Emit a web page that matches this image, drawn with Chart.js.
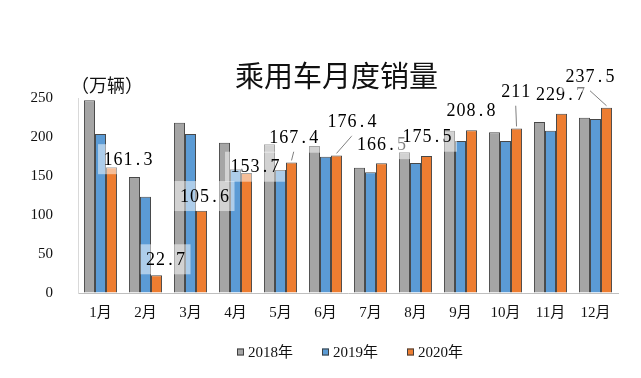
<!DOCTYPE html>
<html>
<head>
<meta charset="utf-8">
<script src="https://cdn.jsdelivr.net/npm/chart.js@4.4.1/dist/chart.umd.min.js"></script>
<style>
html,body{margin:0;padding:0;background:#fff;}
#wrap{width:641px;height:378px;position:relative;}
</style>
</head>
<body>
<div id="wrap"><canvas id="c" width="641" height="378"></canvas></div>
<script>
const categories = ['1月','2月','3月','4月','5月','6月','7月','8月','9月','10月','11月','12月'];
const seriesNames = ['2018年','2019年','2020年'];
const sales2018 = [247, 148.7, 218.3, 192.7, 190.6, 188.5, 160.7, 180.4, 208, 206, 219.2, 224.7];
const sales2019 = [203.8, 123.5, 203.8, 158.6, 157.7, 174.8, 154.7, 166.7, 194.9, 194.9, 208, 223];
const sales2020 = [161.3, 22.7, 105.6, 153.7, 167.4, 176.4, 166.5, 175.5, 208.8, 211, 229.7, 237.5];
const labels2020 = ['161.3','22.7','105.6','153.7','167.4','176.4','166.5','175.5','208.8','211','229.7','237.5'];
const yTicks = [0, 50, 100, 150, 200, 250];
const titleText = '乘用车月度销量';
const unitText = '（万辆）';

// label placement (offset from top-centre of the 2020 bar), and whether a leader line is drawn
const labelOffsets = [[16.5,-8],[9,-16],[3,-14.6],[8.5,-6.4],[2.2,-24.7],[15.5,-33.7],[0,-19],[0.5,-19.4],[-0.5,-19.4],[-0.8,-36.7],[-1,-19.5],[-16.5,-31]];
const leaders = [false,false,false,false,true,true,false,false,false,true,false,true];

const colors = ['#A5A5A5','#5B9BD5','#ED7D31'];
const serif = "'Liberation Serif', 'Noto Sans CJK SC', serif";

const decor = {
  id: 'decor',
  afterDatasetsDraw(chart) {
    const ctx = chart.ctx;
    const meta = chart.getDatasetMeta(2);
    ctx.save();
    ctx.font = "18px 'Liberation Serif', serif";
    ctx.textBaseline = 'middle';
    ctx.textAlign = 'center';
    meta.data.forEach((bar, i) => {
      const txt = labels2020[i];
      const adv = 10;
      const w = txt.length * adv;
      const cx = bar.x + labelOffsets[i][0];
      const cy = bar.y + labelOffsets[i][1];
      ctx.fillStyle = 'rgba(255,255,255,0.5)';
      ctx.fillRect(cx - w/2 - 5, cy - 15, w + 10, 30);
      if (leaders[i]) {
        ctx.strokeStyle = '#7F7F7F';
        ctx.lineWidth = 1;
        ctx.beginPath();
        ctx.moveTo(cx, cy + 14);
        ctx.lineTo(bar.x, bar.y - 2);
        ctx.stroke();
      }
      ctx.fillStyle = '#000';
      for (let k = 0; k < txt.length; k++) {
        ctx.fillText(txt[k], cx - w/2 + adv*k + adv/2, cy + 1);
      }
    });
    ctx.restore();
  },
  afterDraw(chart) {
    const ctx = chart.ctx;
    ctx.save();
    ctx.fillStyle = '#111';
    ctx.textBaseline = 'middle';
    ctx.textAlign = 'center';
    ctx.font = "29px 'Noto Sans CJK SC', sans-serif";
    ctx.fillText(titleText, 336.5, 76);
    ctx.font = "18px 'Noto Sans CJK SC', sans-serif";
    ctx.fillText(unitText, 107, 85);
    // legend
    ctx.font = "15px " + serif;
    ctx.textAlign = 'left';
    const box = 7, gapT = 4, gapI = 29;
    const items = chart.data.datasets.map(d => ({label: d.label, color: d.backgroundColor, w: box + gapT + ctx.measureText(d.label).width}));
    const total = items.reduce((s, it) => s + it.w, 0) + gapI * (items.length - 1);
    let x = 350 - total / 2;
    const y = 352;
    items.forEach(it => {
      ctx.fillStyle = it.color;
      ctx.fillRect(x, y - box/2, box, box);
      ctx.strokeStyle = '#404040';
      ctx.lineWidth = 1;
      ctx.strokeRect(x + 0.5, y - box/2 + 0.5, box - 1, box - 1);
      ctx.fillStyle = '#111';
      ctx.fillText(it.label, x + box + gapT, y + 1);
      x += it.w + gapI;
    });
    ctx.restore();
  }
};

const datasets = [sales2018, sales2019, sales2020].map((d, i) => ({
  label: seriesNames[i],
  data: d,
  backgroundColor: colors[i],
  borderColor: 'rgba(40,40,40,0.85)',
  borderWidth: 1,
  categoryPercentage: 0.735,
  barPercentage: 1.0
}));

new Chart(document.getElementById('c'), {
  type: 'bar',
  data: { labels: categories, datasets },
  options: {
    responsive: false,
    animation: false,
    devicePixelRatio: 1,
    layout: { padding: { left: 0, right: 23, top: 98, bottom: 56 } },
    plugins: { legend: { display: false }, title: { display: false }, tooltip: { enabled: false } },
    scales: {
      x: {
        grid: { drawOnChartArea: false, drawTicks: false },
        border: { display: true, color: '#BFBFBF', width: 1 },
        ticks: { color: '#111', font: { family: serif, size: 15 }, padding: 11, maxRotation: 0, autoSkip: false },
        afterFit: s => { s.height = 29; }
      },
      y: {
        min: 0, max: 250,
        afterBuildTicks: s => { s.ticks = yTicks.map(v => ({ value: v })); },
        grid: { drawOnChartArea: false, drawTicks: false },
        border: { display: true, color: '#D9D9D9', width: 1 },
        ticks: { color: '#111', font: { family: serif, size: 15 }, padding: 25 },
        afterFit: s => { s.width = 78; }
      }
    }
  },
  plugins: [decor]
});
</script>
</body>
</html>
